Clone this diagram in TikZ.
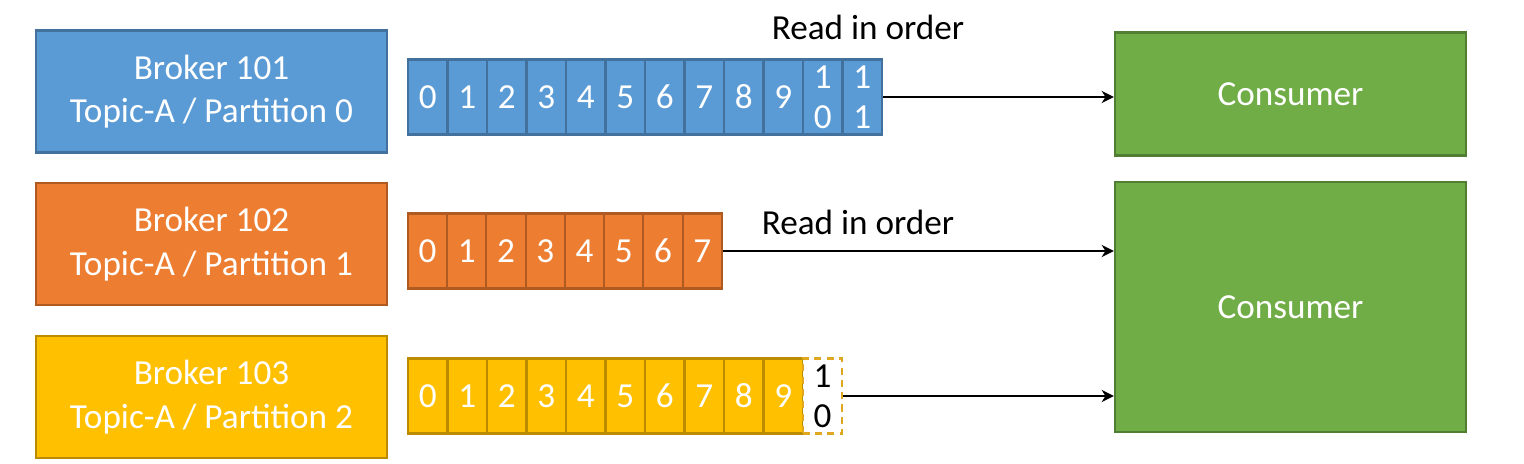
\documentclass[tikz,border=0pt]{standalone}
\usepackage{fontspec}
\setmainfont{Carlito}
\usetikzlibrary{arrows.meta, positioning}

\definecolor{pblue}{HTML}{5B9BD5}
\definecolor{pblueline}{HTML}{41719C}
\definecolor{porange}{HTML}{ED7D31}
\definecolor{porangeline}{HTML}{AE5A21}
\definecolor{pyellow}{HTML}{FFC000}
\definecolor{pyellowline}{HTML}{BC8C00}
\definecolor{pyellowdash}{HTML}{E0A820}
\definecolor{pgreen}{HTML}{70AD47}
\definecolor{pgreenline}{HTML}{507E32}

\begin{document}
\begin{tikzpicture}[x=0.01cm, y=-0.01cm]
        \tikzstyle{broker} = [rectangle, minimum width=3.51cm, minimum height=1.22cm, text centered, align=center, text=white, line width=0.6pt, font=\fontsize{10}{12.4}\selectfont]
        \tikzstyle{consumer} = [rectangle, minimum width=3.51cm, text centered, align=center, text=white, fill=pgreen, draw=pgreenline, line width=0.6pt, font=\fontsize{10}{12}\selectfont]
        \tikzstyle{cell} = [rectangle, minimum width=0.395cm, minimum height=0.75cm, inner sep=0pt, text centered, align=center, text=white, line width=0.6pt, font=\fontsize{10}{11.4}\selectfont]
        \tikzstyle{note} = [font=\fontsize{10}{12}\selectfont, text=black]
        \tikzstyle{arrow} = [->, >={Stealth[length=3.5pt, width=3.5pt]}]

        \useasboundingbox (0,0) rectangle (1524,464);

        % brokers
        \node (b101) [broker, fill=pblue, draw=pblueline] at (211.5,91.5) {Broker 101\\Topic-A / Partition 0};
        \node (b102) [broker, fill=porange, draw=porangeline] at (211.5,244) {Broker 102\\Topic-A / Partition 1};
        \node (b103) [broker, fill=pyellow, draw=pyellowline] at (211.5,397) {Broker 103\\Topic-A / Partition 2};

        % partitions
        \foreach \lbl [count=\i from 0] in {0,1,2,3,4,5,6,7,8,9,{1\\0},{1\\1}}
            \node (p0c\i) [cell, fill=pblue, draw=pblueline] at ({427.75+39.5*\i},97) {\lbl};
        \foreach \lbl [count=\i from 0] in {0,1,2,3,4,5,6,7}
            \node (p1c\i) [cell, fill=porange, draw=porangeline] at ({427.6+39.25*\i},251) {\lbl};
        \foreach \lbl [count=\i from 0] in {0,1,2,3,4,5,6,7,8,9}
            \node (p2c\i) [cell, fill=pyellow, draw=pyellowline] at ({427.75+39.5*\i},396) {\lbl};
        \node (p2c10) [cell, fill=white, draw=pyellowdash, dash pattern=on 2pt off 1.5pt, text=black] at (822.5,396) {1\\0};

        % consumers
        \node (cons1) [consumer, minimum height=1.23cm] at (1290.5,94) {Consumer};
        \node (cons2) [consumer, minimum height=2.5cm] at (1290.5,307) {Consumer};

        \node (read1) [note] at (868,27) {Read in order};
        \node (read2) [note] at (858,222) {Read in order};

        \draw [arrow] (p0c11.east) -- (cons1.west |- p0c11.east);
        \draw [arrow] (p1c7.east) -- (cons2.west |- p1c7.east);
        \draw [arrow] (p2c10.east) -- (cons2.west |- p2c10.east);
    \end{tikzpicture}
\end{document}
